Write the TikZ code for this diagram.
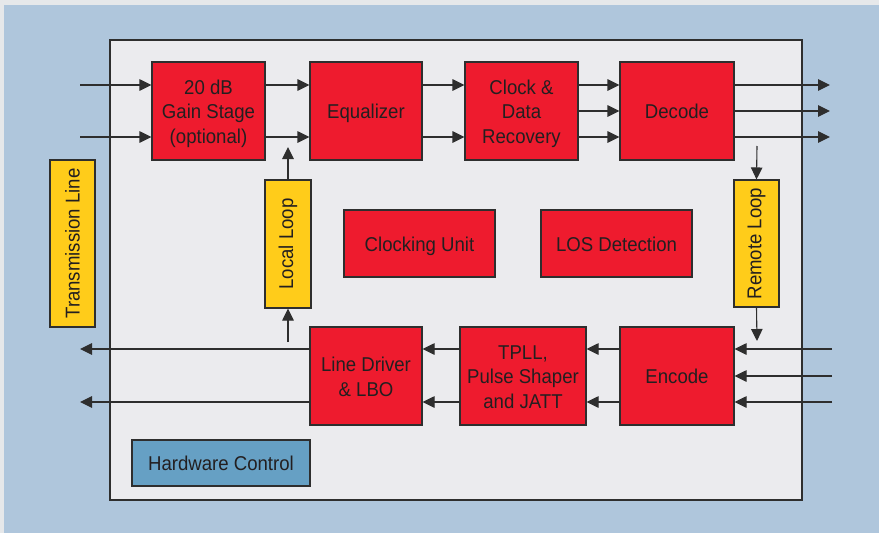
\documentclass[tikz,border=0pt]{standalone}
\usepackage{fontspec}
\setmainfont{Liberation Sans}[FakeStretch=0.93]
\usetikzlibrary{arrows.meta}
\definecolor{bgblue}{HTML}{AFC6DC}
\definecolor{edgegray}{HTML}{E6E8EA}
\definecolor{panel}{HTML}{EBEBEE}
\definecolor{blkred}{HTML}{EE1B2E}
\definecolor{blkyel}{HTML}{FFCC1A}
\definecolor{blkblue}{HTML}{66A0C4}
\definecolor{ink}{HTML}{231F20}
\definecolor{lin}{HTML}{2E2E2E}
\newcommand\bxt[1]{\vbox{\kern6pt\hbox{\begin{tabular}{@{}c@{}}#1\end{tabular}}}}
\tikzset{
  box/.style={draw=lin, line width=1.1pt, inner sep=0pt, align=center, text=ink,
     font=\fontsize{20}{24.5}\selectfont},
  redbox/.style={box, fill=blkred},
  yelbox/.style={box, fill=blkyel},
  bluebox/.style={box, fill=blkblue},
  arr/.style={draw=lin, line width=1.1pt, -{Triangle[length=12pt,width=11.5pt]}},
}
\begin{document}
\begin{tikzpicture}[x=1pt,y=-1pt]
\useasboundingbox (0,0) rectangle (879,533);
\fill[edgegray] (0,0) rectangle (879,533);
\fill[bgblue] (4,5) rectangle (879,533);
\node[draw=lin, line width=1.1pt, fill=panel, minimum width=692pt, minimum height=460pt, inner sep=0pt] (panel) at (456,270) {};

\node[redbox, minimum width=113pt, minimum height=98pt] (gain) at (208.5,111) {\bxt{20 dB\\Gain Stage\\(optional)}};
\node[redbox, minimum width=112pt, minimum height=98pt] (eq) at (366,111) {\bxt{Equalizer}};
\node[redbox, minimum width=113pt, minimum height=98pt] (cdr) at (521.5,111) {\bxt{Clock \&\\Data\\Recovery}};
\node[redbox, minimum width=114pt, minimum height=98pt] (dec) at (677,111) {\bxt{Decode}};

\node[yelbox, minimum width=167pt, minimum height=45pt, rotate=90] (tl) at (72.5,243.5) {Transmission Line};
\node[yelbox, minimum width=128pt, minimum height=46pt, rotate=90] (loc) at (288,244) {Local Loop};
\node[yelbox, minimum width=127pt, minimum height=45pt, rotate=90] (rem) at (756.5,243.5) {Remote Loop};

\node[redbox, minimum width=151pt, minimum height=67pt] (clk) at (419.5,243.5) {\bxt{Clocking Unit}};
\node[redbox, minimum width=151pt, minimum height=67pt] (los) at (616.5,243.5) {\bxt{LOS Detection}};

\node[redbox, minimum width=112pt, minimum height=98pt] (ld) at (366,376) {\bxt{Line Driver\\\& LBO}};
\node[redbox, minimum width=126pt, minimum height=98pt] (tpll) at (523,376) {\bxt{TPLL,\\Pulse Shaper\\and JATT}};
\node[redbox, minimum width=114pt, minimum height=98pt] (enc) at (677,376) {\bxt{Encode}};

\node[bluebox, minimum width=178pt, minimum height=46pt] (hw) at (221,463) {\bxt{Hardware Control}};

% row coordinates
\coordinate (ra) at (0,85);
\coordinate (rb) at (0,111);
\coordinate (rc) at (0,137);
\coordinate (sa) at (0,349);
\coordinate (sb) at (0,376);
\coordinate (sc) at (0,402);

% inputs
\coordinate (inA) at (80,85);
\coordinate (inC) at (80,137);
\draw[arr] (inA) -- (gain.west |- ra);
\draw[arr] (inC) -- (gain.west |- rc);
\draw[arr] (gain.east |- ra) -- (eq.west |- ra);
\draw[arr] (gain.east |- rc) -- (eq.west |- rc);
\draw[arr] (eq.east |- ra) -- (cdr.west |- ra);
\draw[arr] (eq.east |- rc) -- (cdr.west |- rc);
\draw[arr] (cdr.east |- ra) -- (dec.west |- ra);
\draw[arr] (cdr.east |- rb) -- (dec.west |- rb);
\draw[arr] (cdr.east |- rc) -- (dec.west |- rc);
\coordinate (outA) at (830,85);
\coordinate (outB) at (830,111);
\coordinate (outC) at (830,137);
\draw[arr] (dec.east |- ra) -- (outA);
\draw[arr] (dec.east |- rb) -- (outB);
\draw[arr] (dec.east |- rc) -- (outC);

% loops
\coordinate (locTip) at (288,147);
\coordinate (locSrc) at (288,342);
\draw[arr] (loc.east) -- (locTip);
\draw[arr] (locSrc) -- (loc.west);
\coordinate (remSrc) at (757,146);
\coordinate (remTip) at (757,341);
\draw[arr] (remSrc) -- (rem.east);
\draw[arr] (rem.west) -- (remTip);

% lower path
\coordinate (eiA) at (832,349);
\coordinate (eiB) at (832,376);
\coordinate (eiC) at (832,402);
\draw[arr] (eiA) -- (enc.east |- sa);
\draw[arr] (eiB) -- (enc.east |- sb);
\draw[arr] (eiC) -- (enc.east |- sc);
\draw[arr] (enc.west |- sa) -- (tpll.east |- sa);
\draw[arr] (enc.west |- sc) -- (tpll.east |- sc);
\draw[arr] (tpll.west |- sa) -- (ld.east |- sa);
\draw[arr] (tpll.west |- sc) -- (ld.east |- sc);
\coordinate (loA) at (80,349);
\coordinate (loC) at (80,402);
\draw[arr] (ld.west |- sa) -- (loA);
\draw[arr] (ld.west |- sc) -- (loC);
\end{tikzpicture}
\end{document}
